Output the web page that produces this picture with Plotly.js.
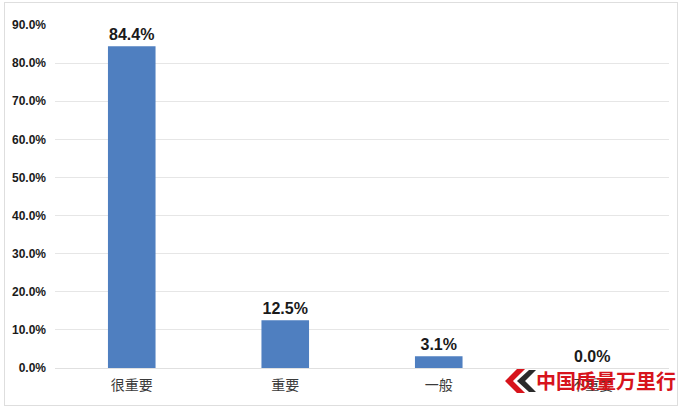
<!DOCTYPE html>
<html>
<head>
<meta charset="utf-8">
<script src="https://cdn.plot.ly/plotly-3.0.1.min.js"></script>
<style>
  html, body { margin: 0; padding: 0; background: #ffffff; }
  #frame { position: absolute; left: 4px; top: 2px; width: 674px; height: 404px;
           border: 1px solid #dedede; box-sizing: border-box; background: #fff; }
  #chart { width: 672px; height: 402px; }
</style>
</head>
<body>
<div id="frame"><div id="chart"></div></div>
<script>
// Survey result: how important respondents consider the topic
const categories = ['很重要', '重要', '一般', '不重要'];
const shares = [84.4, 12.5, 3.1, 0.0];
const yTicks = [0, 10, 20, 30, 40, 50, 60, 70, 80, 90];

const W = 672, H = 402;
const margin = { l: 50, r: 8, t: 22, b: 37 };
const plotW = W - margin.l - margin.r;
const plotH = H - margin.t - margin.b;
// pixel (relative to chart div) -> paper coordinates, used for the logo badge
const px = x => (x - margin.l) / plotW;
const py = y => (H - margin.b - y) / plotH;

function poly(points) {
  return 'M' + points.map(p => px(p[0]).toFixed(4) + ',' + py(p[1]).toFixed(4)).join(' L') + ' Z';
}

const trace = {
  type: 'bar',
  x: categories,
  y: shares,
  marker: { color: '#4f7fc0' },
  text: shares.map(v => v.toFixed(1) + '%'),
  textposition: 'outside',
  cliponaxis: false,
  textfont: { family: 'Liberation Sans, Arial, sans-serif', size: 16, color: '#1a1a1a', weight: 'bold' },
  hoverinfo: 'skip'
};

const layout = {
  width: W, height: H,
  margin: margin,
  paper_bgcolor: '#ffffff',
  plot_bgcolor: '#ffffff',
  showlegend: false,
  bargap: 0.69,
  xaxis: {
    type: 'category',
    showgrid: false, zeroline: false, showline: false, ticks: '',
    tickfont: { family: 'Noto Sans CJK SC, sans-serif', size: 14, color: '#3a3a3a' },
    ticklabelstandoff: 7
  },
  yaxis: {
    range: [0, 90],
    tickvals: yTicks,
    ticktext: yTicks.map(v => v.toFixed(1) + '%'),
    showgrid: true, gridcolor: '#e6e6e6', gridwidth: 1,
    zeroline: true, zerolinecolor: '#e0e0e0', zerolinewidth: 1,
    showline: false, ticks: '',
    tickfont: { family: 'Liberation Sans, Arial, sans-serif', size: 12, color: '#1a1a1a', weight: 'bold' },
    ticklabelstandoff: 8
  },
  shapes: [
    { type: 'path', xref: 'paper', yref: 'paper', layer: 'above', line: { width: 0 },
      fillcolor: '#2b2b2b',
      path: poly([[524, 367], [512, 378], [524, 389], [531, 389], [520, 378], [531, 367]]) },
    { type: 'path', xref: 'paper', yref: 'paper', layer: 'above', line: { width: 0 },
      fillcolor: '#d7141c',
      path: poly([[512, 366], [500, 378], [512, 390], [520, 390], [508, 378], [520, 366]]) }
  ],
  annotations: [
    { xref: 'paper', yref: 'paper', x: px(529), y: py(377), xanchor: 'left', yanchor: 'middle',
      text: '中国质量万里行', showarrow: false,
      font: { family: 'Noto Sans CJK SC, sans-serif', size: 20, color: '#d7141c', weight: 'bold' } }
  ]
};

Plotly.newPlot('chart', [trace], layout, { displayModeBar: false, staticPlot: true });
</script>
</body>
</html>
